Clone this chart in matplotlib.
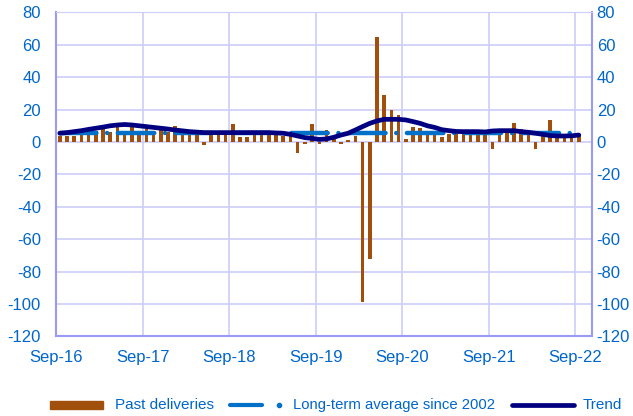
import matplotlib.pyplot as plt
import numpy as np
from matplotlib.lines import Line2D
from matplotlib.patches import Rectangle

plt.rcParams['font.family'] = ['Liberation Sans', 'DejaVu Sans']
plt.rcParams['axes.unicode_minus'] = False

# monthly data, Sep-16 .. Sep-22
past_deliveries = [4, 4, 4, 5, 5, 7, 8, 6, 11, 6, 11, 5, 8, 6, 10, 6, 10, 6, 5, 5,
                   -2, 7, 5, 5, 11, 3, 3, 7, 5, 7, 5, 4, 4, -6.5, -1.5, 11, -1, 7.5, 3, -1.5,
                   1, 4, -99, -72, 65, 29, 20, 16.5, 2, 9, 8.5, 6.5, 6, 3, 5, 5, 5, 5, 5, 5,
                   -4.5, 5, 6, 11.5, 8, 5, -4.5, 4, 13.5, 3, 3, 3, 4]
trend = [5.4, 5.8, 6.4, 7, 7.8, 8.5, 9.2, 10, 10.5, 10.8, 10.5, 10, 9.5, 9, 8.5, 8, 7.4, 6.9, 6.4, 6.1,
         5.8, 5.8, 5.8, 5.8, 5.8, 5.8, 5.8, 5.8, 5.8, 5.8, 5.6, 5.4, 4.7, 3.7, 2.7, 2.2, 1.6, 1.9, 2.9, 4.3,
         5.4, 7.4, 9.5, 11.5, 13, 14, 14, 14, 13.6, 12.6, 11.5, 10, 9, 7.6, 7, 6.5, 6.4, 6.4, 6.4, 6.2,
         6.8, 7, 7, 7, 6.4, 6, 5.4, 4.7, 4, 3.7, 3.7, 3.8, 4.3]
long_term_avg = 5.3
tick_labels = ['Sep-16', 'Sep-17', 'Sep-18', 'Sep-19', 'Sep-20', 'Sep-21', 'Sep-22']

x = np.arange(len(past_deliveries)) + 0.5

bar_col = '#A0500C'
avg_col = '#0070C8'
trend_col = '#000080'
txt_col = '#0066CC'
axis_col = '#9A9AF5'
grid_col = '#CDCDFA'

W, H = 633, 416
fig = plt.figure(figsize=(W / 100, H / 100), dpi=100)
ax = fig.add_axes([56.2 / W, 1 - 336.4 / H, 536.3 / W, 324.0 / H])

ax.bar(x, past_deliveries, width=0.5, color=bar_col, zorder=2)
ax.plot(x, [long_term_avg] * len(x), color=avg_col, lw=3.2, zorder=3,
        linestyle=(0, (8.2, 2.4, 0.01, 2.4)), dash_capstyle='round', solid_capstyle='round')
ax.plot(x, trend, color=trend_col, lw=3.4, zorder=4, solid_capstyle='round')

ax.set_xlim(0, 74.4)
ax.set_ylim(-120, 80)
ax.set_yticks(np.arange(-120, 81, 20))
ax.set_xticks(np.arange(0, 73, 12))
ax.set_xticklabels(tick_labels)
ax.grid(True, color=grid_col, lw=1.2, zorder=0)
ax.set_axisbelow(True)

for s in ['left', 'right', 'bottom']:
    ax.spines[s].set_color(axis_col)
    ax.spines[s].set_linewidth(1.5)
ax.spines['top'].set_color(grid_col)
ax.tick_params(axis='both', length=0, labelsize=12, colors=txt_col)
ax.tick_params(axis='y', pad=11)
ax.tick_params(axis='x', pad=10)

ax2 = ax.twinx()
ax2.set_ylim(-120, 80)
ax2.set_yticks(np.arange(-120, 81, 20))
ax2.tick_params(axis='y', length=0, labelsize=12, colors=txt_col, pad=3)
for s in ax2.spines.values():
    s.set_visible(False)

# legend drawn at the bottom
def fx(px):
    return px / W

def fy(py):
    return 1 - py / H

ly = 405
fig.add_artist(Rectangle((fx(50), fy(409)), fx(103) - fx(50), fy(401) - fy(409),
                         transform=fig.transFigure, color=bar_col))
fig.text(fx(115), fy(ly), 'Past deliveries', color=txt_col, fontsize=11, va='center')
fig.add_artist(Line2D([fx(230), fx(262)], [fy(ly), fy(ly)], transform=fig.transFigure,
                      color=avg_col, lw=3, solid_capstyle='round'))
fig.add_artist(Line2D([fx(279)], [fy(ly)], transform=fig.transFigure, marker='o',
                      markersize=3, color=avg_col, lw=0))
fig.text(fx(293), fy(ly), 'Long-term average since 2002', color=txt_col, fontsize=10.7, va='center')
fig.add_artist(Line2D([fx(512), fx(574)], [fy(ly), fy(ly)], transform=fig.transFigure,
                      color=trend_col, lw=3.4, solid_capstyle='round'))
fig.text(fx(583), fy(ly), 'Trend', color=txt_col, fontsize=11, va='center')

fig.savefig('out.png', dpi=100)
